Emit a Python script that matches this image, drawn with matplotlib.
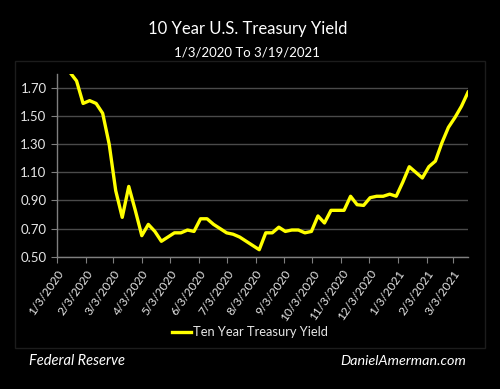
import datetime as dt
import matplotlib
matplotlib.use('Agg')
import matplotlib.pyplot as plt
import matplotlib.dates as mdates
from matplotlib.patches import Rectangle

# weekly averages, 10 year treasury yield, starting 1/3/2020
start = dt.date(2020, 1, 3)
yields = [1.88, 1.83, 1.81, 1.75, 1.59, 1.61, 1.59, 1.52, 1.30, 0.97,
          0.78, 1.00, 0.83, 0.65, 0.73, 0.68, 0.61, 0.64, 0.67, 0.67,
          0.69, 0.68, 0.77, 0.77, 0.73, 0.70, 0.67, 0.66, 0.64, 0.61,
          0.58, 0.55, 0.67, 0.67, 0.71, 0.68, 0.69, 0.69, 0.67, 0.68,
          0.79, 0.74, 0.83, 0.83, 0.83, 0.93, 0.87, 0.865, 0.92, 0.93,
          0.93, 0.945, 0.93, 1.03, 1.14, 1.10, 1.06, 1.14, 1.18, 1.31,
          1.42, 1.49, 1.57, 1.67]
dates = [start + dt.timedelta(days=7 * i) for i in range(len(yields))]
tickDates = [dt.date(2020 + (m - 1) // 12, (m - 1) % 12 + 1, 3) for m in range(1, 16)]
tickLabels = ['%d/%d/%d' % (d.month, d.day, d.year) for d in tickDates]
yTicks = [0.50, 0.70, 0.90, 1.10, 1.30, 1.50, 1.70]

plt.rcParams['font.family'] = ['Lato', 'DejaVu Sans']
fig = plt.figure(figsize=(5, 3.89), dpi=100, facecolor='black')
ax = fig.add_axes([0.114, 0.340, 0.822, 0.470], facecolor='black')

# faint chart area border
fig.patches.append(Rectangle((0.03, 0.105), 0.94, 0.738, transform=fig.transFigure,
                             fill=False, edgecolor='#1c1c1c', linewidth=1))

ax.plot(dates, yields, color='#ffff00', linewidth=2.4, label='Ten Year Treasury Yield',
        solid_joinstyle='round')

ax.set_ylim(0.5, 1.8)
ax.set_xlim(start, dates[-1])
ax.set_yticks(yTicks)
ax.set_yticklabels(['%.2f' % v for v in yTicks])
ax.set_xticks(tickDates)
ax.set_xticklabels(tickLabels, rotation=55, ha='right', va='top', rotation_mode='anchor')

ax.grid(axis='y', color='#4a4a4a', linewidth=1)
ax.set_axisbelow(True)
for s in ['top', 'right']:
    ax.spines[s].set_visible(False)
for s in ['left', 'bottom']:
    ax.spines[s].set_color('#7f7f7f')
    ax.spines[s].set_linewidth(1)
ax.tick_params(axis='both', colors='#7f7f7f', labelcolor='#e6e6e6', labelsize=9.5, length=4)
ax.tick_params(axis='x', labelsize=8.6, pad=4)

fig.text(0.496, 0.925, '10 Year U.S. Treasury Yield', color='white', fontsize=12,
         ha='center', va='center')
fig.text(0.494, 0.864, '1/3/2020 To 3/19/2021', color='white', fontsize=9.5,
         ha='center', va='center')

leg = fig.legend(loc='center', bbox_to_anchor=(0.5, 0.146), frameon=False,
                 fontsize=9.3, handlelength=1.5, handletextpad=0.15)
for t in leg.get_texts():
    t.set_color('#e6e6e6')

fig.text(0.058, 0.072, 'Federal Reserve', color='white', fontsize=10.5,
         style='italic', ha='left', va='center')
fig.text(0.932, 0.072, 'DanielAmerman.com', color='white', fontsize=10.4,
         style='italic', ha='right', va='center')

fig.savefig('out.png', dpi=100, facecolor='black')
